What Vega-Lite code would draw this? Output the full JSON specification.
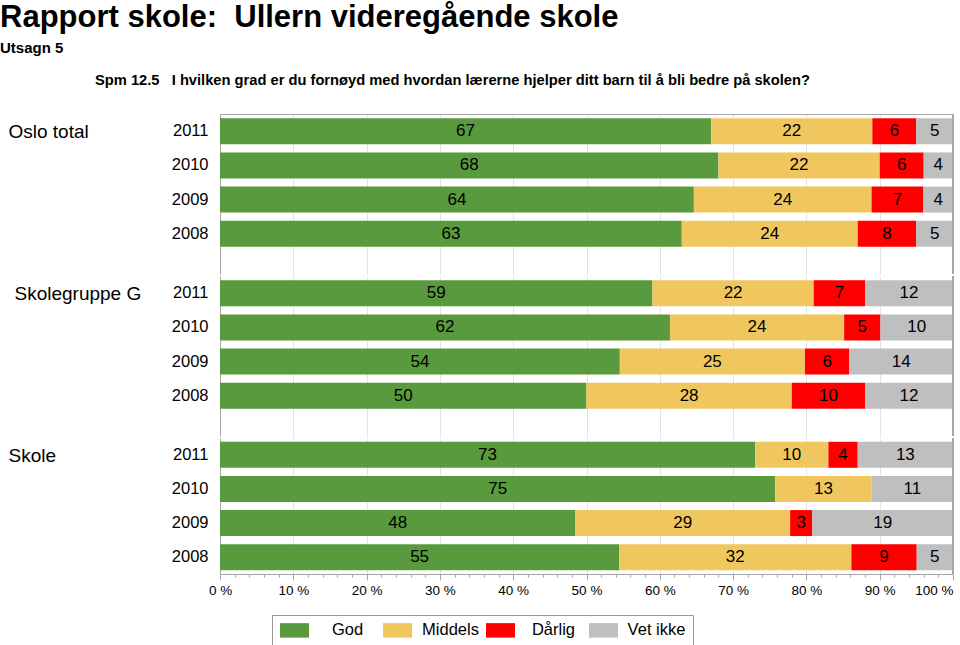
{
  "$schema": "https://vega.github.io/schema/vega-lite/v6.json",
  "padding": {"left": 0, "top": 1, "right": 5, "bottom": 0},
  "background": "white",
  "title": {
    "text": "Rapport skole:\u00a0 Ullern videregående skole",
    "subtitle": "Utsagn 5",
    "anchor": "start",
    "dx": -8,
    "font": "Liberation Sans",
    "fontSize": 31,
    "fontWeight": "bold",
    "color": "black",
    "subtitleFont": "Liberation Sans",
    "subtitleFontSize": 15,
    "subtitleFontWeight": "bold",
    "subtitleColor": "black",
    "subtitlePadding": 7,
    "offset": 16
  },
  "data": {
    "values": [
      {"g": "Oslo total", "year": "2011", "cat": "God", "rank": 1, "v": 67},
      {"g": "Oslo total", "year": "2011", "cat": "Middels", "rank": 2, "v": 22},
      {"g": "Oslo total", "year": "2011", "cat": "Dårlig", "rank": 3, "v": 6},
      {"g": "Oslo total", "year": "2011", "cat": "Vet ikke", "rank": 4, "v": 5},
      {"g": "Oslo total", "year": "2010", "cat": "God", "rank": 1, "v": 68},
      {"g": "Oslo total", "year": "2010", "cat": "Middels", "rank": 2, "v": 22},
      {"g": "Oslo total", "year": "2010", "cat": "Dårlig", "rank": 3, "v": 6},
      {"g": "Oslo total", "year": "2010", "cat": "Vet ikke", "rank": 4, "v": 4},
      {"g": "Oslo total", "year": "2009", "cat": "God", "rank": 1, "v": 64},
      {"g": "Oslo total", "year": "2009", "cat": "Middels", "rank": 2, "v": 24},
      {"g": "Oslo total", "year": "2009", "cat": "Dårlig", "rank": 3, "v": 7},
      {"g": "Oslo total", "year": "2009", "cat": "Vet ikke", "rank": 4, "v": 4},
      {"g": "Oslo total", "year": "2008", "cat": "God", "rank": 1, "v": 63},
      {"g": "Oslo total", "year": "2008", "cat": "Middels", "rank": 2, "v": 24},
      {"g": "Oslo total", "year": "2008", "cat": "Dårlig", "rank": 3, "v": 8},
      {"g": "Oslo total", "year": "2008", "cat": "Vet ikke", "rank": 4, "v": 5},
      {"g": "Skolegruppe G", "year": "2011", "cat": "God", "rank": 1, "v": 59},
      {"g": "Skolegruppe G", "year": "2011", "cat": "Middels", "rank": 2, "v": 22},
      {"g": "Skolegruppe G", "year": "2011", "cat": "Dårlig", "rank": 3, "v": 7},
      {"g": "Skolegruppe G", "year": "2011", "cat": "Vet ikke", "rank": 4, "v": 12},
      {"g": "Skolegruppe G", "year": "2010", "cat": "God", "rank": 1, "v": 62},
      {"g": "Skolegruppe G", "year": "2010", "cat": "Middels", "rank": 2, "v": 24},
      {"g": "Skolegruppe G", "year": "2010", "cat": "Dårlig", "rank": 3, "v": 5},
      {"g": "Skolegruppe G", "year": "2010", "cat": "Vet ikke", "rank": 4, "v": 10},
      {"g": "Skolegruppe G", "year": "2009", "cat": "God", "rank": 1, "v": 54},
      {"g": "Skolegruppe G", "year": "2009", "cat": "Middels", "rank": 2, "v": 25},
      {"g": "Skolegruppe G", "year": "2009", "cat": "Dårlig", "rank": 3, "v": 6},
      {"g": "Skolegruppe G", "year": "2009", "cat": "Vet ikke", "rank": 4, "v": 14},
      {"g": "Skolegruppe G", "year": "2008", "cat": "God", "rank": 1, "v": 50},
      {"g": "Skolegruppe G", "year": "2008", "cat": "Middels", "rank": 2, "v": 28},
      {"g": "Skolegruppe G", "year": "2008", "cat": "Dårlig", "rank": 3, "v": 10},
      {"g": "Skolegruppe G", "year": "2008", "cat": "Vet ikke", "rank": 4, "v": 12},
      {"g": "Skole", "year": "2011", "cat": "God", "rank": 1, "v": 73},
      {"g": "Skole", "year": "2011", "cat": "Middels", "rank": 2, "v": 10},
      {"g": "Skole", "year": "2011", "cat": "Dårlig", "rank": 3, "v": 4},
      {"g": "Skole", "year": "2011", "cat": "Vet ikke", "rank": 4, "v": 13},
      {"g": "Skole", "year": "2010", "cat": "God", "rank": 1, "v": 75},
      {"g": "Skole", "year": "2010", "cat": "Middels", "rank": 2, "v": 13},
      {"g": "Skole", "year": "2010", "cat": "Vet ikke", "rank": 4, "v": 11},
      {"g": "Skole", "year": "2009", "cat": "God", "rank": 1, "v": 48},
      {"g": "Skole", "year": "2009", "cat": "Middels", "rank": 2, "v": 29},
      {"g": "Skole", "year": "2009", "cat": "Dårlig", "rank": 3, "v": 3},
      {"g": "Skole", "year": "2009", "cat": "Vet ikke", "rank": 4, "v": 19},
      {"g": "Skole", "year": "2008", "cat": "God", "rank": 1, "v": 55},
      {"g": "Skole", "year": "2008", "cat": "Middels", "rank": 2, "v": 32},
      {"g": "Skole", "year": "2008", "cat": "Dårlig", "rank": 3, "v": 9},
      {"g": "Skole", "year": "2008", "cat": "Vet ikke", "rank": 4, "v": 5}
    ]
  },
  "spacing": 0,
  "vconcat": [
    {
      "title": {
        "text": "Spm 12.5\u00a0\u00a0 I hvilken grad er du fornøyd med hvordan lærerne hjelper ditt barn til å bli bedre på skolen?",
        "anchor": "start",
        "frame": "group",
        "dx": -125,
        "font": "Liberation Sans",
        "fontSize": 14.7,
        "fontWeight": "bold",
        "color": "black",
        "offset": 26
      },
      "width": 733,
      "height": 160,
      "transform": [{"filter": {"field": "g", "equal": "Oslo total"}}],
      "layer": [
        {
          "mark": {"type": "bar"},
          "encoding": {
            "y": {"field": "year", "type": "nominal", "sort": "descending",
              "scale": {"paddingInner": 0.238, "paddingOuter": 0.463, "align": 0.136},
              "axis": {"title": "Oslo total", "titleAngle": 0, "titleAlign": "left", "titleBaseline": "middle", "titleX": -212, "titleY": 17, "titleFont": "Liberation Sans", "titleFontSize": 19, "titleFontWeight": "normal", "titleColor": "black", "labelFont": "Liberation Sans", "labelFontSize": 16.5, "labelColor": "black", "labelPadding": 12, "ticks": false, "domainColor": "#a6a6a6"}},
            "x": {"field": "v", "type": "quantitative", "stack": "normalize", "scale": {"domain": [0, 1]},
              "axis": {"orient": "top", "title": null, "labels": false, "ticks": false, "domain": true, "domainColor": "#a6a6a6", "grid": true, "gridColor": "#e3e3e3", "values": [0, 0.1, 0.2, 0.3, 0.4, 0.5, 0.6, 0.7, 0.8, 0.9, 1]}},
            "color": {"field": "cat", "type": "nominal", "sort": ["God", "Middels", "Dårlig", "Vet ikke"],
              "scale": {"domain": ["God", "Middels", "Dårlig", "Vet ikke"], "range": ["#5a9a3e", "#f0c75e", "#ff0000", "#bfbfbf"]},
              "legend": {"orient": "none", "legendX": 52, "legendY": 501, "direction": "horizontal", "columns": 4, "title": null, "symbolType": "M-1,-1H3V1H-1Z", "symbolSize": 210, "symbolStrokeWidth": 0, "labelFont": "Liberation Sans", "labelFontSize": 16.5, "labelColor": "black", "labelAlign": "center", "labelOffset": 52, "gridAlign": "all", "columnPadding": 5, "padding": 7, "strokeColor": "#999999", "fillColor": "white"}},
            "order": {"field": "rank"}
          }
        },
        {
          "mark": {"type": "text", "font": "Liberation Sans", "fontSize": 17, "baseline": "middle", "color": "black"},
          "encoding": {
            "y": {"field": "year", "type": "nominal", "sort": "descending"},
            "x": {"field": "v", "type": "quantitative", "stack": "normalize", "bandPosition": 0.5, "axis": null},
            "detail": {"field": "cat"},
            "order": {"field": "rank"},
            "text": {"field": "v"}
          }
        },
        {
          "mark": {"type": "rule", "color": "#a6a6a6"},
          "encoding": {"x": {"datum": 1, "type": "quantitative", "axis": null}}
        }
      ],
      "resolve": {"axis": {"x": "independent"}}
    },
    {
      "width": 733,
      "height": 160,
      "transform": [{"filter": {"field": "g", "equal": "Skolegruppe G"}}],
      "layer": [
        {
          "mark": {"type": "bar"},
          "encoding": {
            "y": {"field": "year", "type": "nominal", "sort": "descending",
              "scale": {"paddingInner": 0.238, "paddingOuter": 0.463, "align": 0.136},
              "axis": {"title": "Skolegruppe G", "titleAngle": 0, "titleAlign": "left", "titleBaseline": "middle", "titleX": -206, "titleY": 17, "titleFont": "Liberation Sans", "titleFontSize": 19, "titleFontWeight": "normal", "titleColor": "black", "labelFont": "Liberation Sans", "labelFontSize": 16.5, "labelColor": "black", "labelPadding": 12, "ticks": false, "domainColor": "#a6a6a6"}},
            "x": {"field": "v", "type": "quantitative", "stack": "normalize", "scale": {"domain": [0, 1]},
              "axis": {"orient": "bottom", "title": null, "labels": false, "ticks": false, "domain": false, "grid": true, "gridColor": "#e3e3e3", "values": [0, 0.1, 0.2, 0.3, 0.4, 0.5, 0.6, 0.7, 0.8, 0.9, 1]}},
            "color": {"field": "cat", "type": "nominal", "sort": ["God", "Middels", "Dårlig", "Vet ikke"],
              "scale": {"domain": ["God", "Middels", "Dårlig", "Vet ikke"], "range": ["#5a9a3e", "#f0c75e", "#ff0000", "#bfbfbf"]},
              "legend": {"orient": "none", "legendX": 52, "legendY": 501, "direction": "horizontal", "columns": 4, "title": null, "symbolType": "M-1,-1H3V1H-1Z", "symbolSize": 210, "symbolStrokeWidth": 0, "labelFont": "Liberation Sans", "labelFontSize": 16.5, "labelColor": "black", "labelAlign": "center", "labelOffset": 52, "gridAlign": "all", "columnPadding": 5, "padding": 7, "strokeColor": "#999999", "fillColor": "white"}},
            "order": {"field": "rank"}
          }
        },
        {
          "mark": {"type": "text", "font": "Liberation Sans", "fontSize": 17, "baseline": "middle", "color": "black"},
          "encoding": {
            "y": {"field": "year", "type": "nominal", "sort": "descending"},
            "x": {"field": "v", "type": "quantitative", "stack": "normalize", "bandPosition": 0.5, "axis": null},
            "detail": {"field": "cat"},
            "order": {"field": "rank"},
            "text": {"field": "v"}
          }
        },
        {
          "mark": {"type": "rule", "color": "#a6a6a6"},
          "encoding": {"x": {"datum": 1, "type": "quantitative", "axis": null}}
        }
      ],
      "resolve": {"axis": {"x": "independent"}}
    },
    {
      "width": 733,
      "height": 136,
      "transform": [{"filter": {"field": "g", "equal": "Skole"}}],
      "layer": [
        {
          "mark": {"type": "bar"},
          "encoding": {
            "y": {"field": "year", "type": "nominal", "sort": "descending",
              "scale": {"paddingInner": 0.238, "paddingOuter": 0.111, "align": 0.5},
              "axis": {"title": "Skole", "titleAngle": 0, "titleAlign": "left", "titleBaseline": "middle", "titleX": -212, "titleY": 17, "titleFont": "Liberation Sans", "titleFontSize": 19, "titleFontWeight": "normal", "titleColor": "black", "labelFont": "Liberation Sans", "labelFontSize": 16.5, "labelColor": "black", "labelPadding": 12, "ticks": false, "domainColor": "#a6a6a6"}},
            "x": {"field": "v", "type": "quantitative", "stack": "normalize", "scale": {"domain": [0, 1]},
              "axis": {"orient": "bottom", "title": null, "labelExpr": "round(datum.value*100) + ' %'", "labelFlush": false, "labelOverlap": false, "labelAlign": {"condition": {"test": "datum.value >= 1", "value": "right"}, "value": "center"}, "labelFont": "Liberation Sans", "labelFontSize": 13.5, "labelColor": "black", "labelPadding": 3, "ticks": true, "tickSize": 6, "tickColor": "#a6a6a6", "domain": true, "domainColor": "#a6a6a6", "grid": true, "gridColor": "#e3e3e3", "values": [0, 0.1, 0.2, 0.3, 0.4, 0.5, 0.6, 0.7, 0.8, 0.9, 1]}},
            "color": {"field": "cat", "type": "nominal", "sort": ["God", "Middels", "Dårlig", "Vet ikke"],
              "scale": {"domain": ["God", "Middels", "Dårlig", "Vet ikke"], "range": ["#5a9a3e", "#f0c75e", "#ff0000", "#bfbfbf"]},
              "legend": {"orient": "none", "legendX": 52, "legendY": 501, "direction": "horizontal", "columns": 4, "title": null, "symbolType": "M-1,-1H3V1H-1Z", "symbolSize": 210, "symbolStrokeWidth": 0, "labelFont": "Liberation Sans", "labelFontSize": 16.5, "labelColor": "black", "labelAlign": "center", "labelOffset": 52, "gridAlign": "all", "columnPadding": 5, "padding": 7, "strokeColor": "#999999", "fillColor": "white"}},
            "order": {"field": "rank"}
          }
        },
        {
          "mark": {"type": "text", "font": "Liberation Sans", "fontSize": 17, "baseline": "middle", "color": "black"},
          "encoding": {
            "y": {"field": "year", "type": "nominal", "sort": "descending"},
            "x": {"field": "v", "type": "quantitative", "stack": "normalize", "bandPosition": 0.5, "axis": null},
            "detail": {"field": "cat"},
            "order": {"field": "rank"},
            "text": {"field": "v"}
          }
        },
        {
          "mark": {"type": "rule", "color": "#a6a6a6"},
          "encoding": {"x": {"datum": 1, "type": "quantitative",
            "axis": {"orient": "bottom", "title": null, "labels": false, "domain": false, "grid": false, "ticks": true, "tickSize": 3, "tickColor": "#a6a6a6",
              "values": [0.02, 0.04, 0.06, 0.08, 0.12, 0.14, 0.16, 0.18, 0.22, 0.24, 0.26, 0.28, 0.32, 0.34, 0.36, 0.38, 0.42, 0.44, 0.46, 0.48, 0.52, 0.54, 0.56, 0.58, 0.62, 0.64, 0.66, 0.68, 0.72, 0.74, 0.76, 0.78, 0.82, 0.84, 0.86, 0.88, 0.92, 0.94, 0.96, 0.98]}}}
        }
      ],
      "resolve": {"axis": {"x": "independent"}}
    }
  ],
  "config": {
    "view": {"stroke": null}
  }
}
